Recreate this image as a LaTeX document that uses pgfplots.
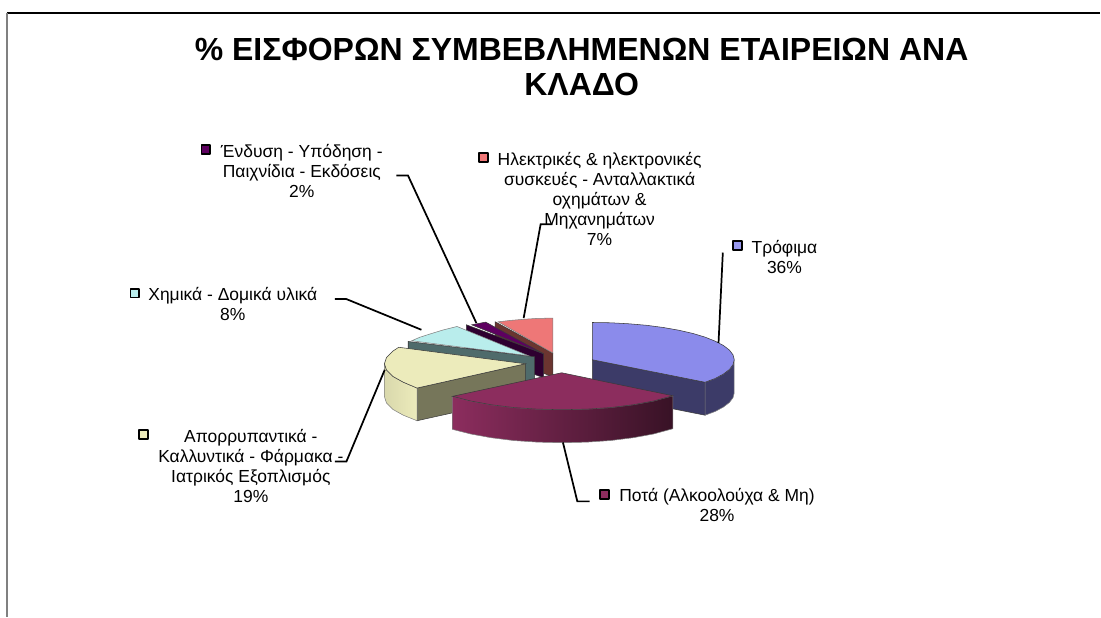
\documentclass[border=0pt]{standalone}
\usepackage{pgfplots}
\pgfplotsset{compat=1.18}
\usepackage{fontspec}
\setmainfont{Liberation Sans}
\definecolor{bluetop}{HTML}{8B8BEB}
\definecolor{blueside}{HTML}{3C3B68}
\definecolor{martop}{HTML}{8C2D5E}
\definecolor{yeltop}{HTML}{ECEBBB}
\definecolor{yelside}{HTML}{76765A}
\definecolor{tealtop}{HTML}{B9EDEC}
\definecolor{tealside}{HTML}{4F6B6B}
\definecolor{purtop}{HTML}{5E0060}
\definecolor{purside}{HTML}{2E0030}
\definecolor{pinktop}{HTML}{EE7777}
\definecolor{pinkside}{HTML}{6B3530}
\definecolor{edge}{HTML}{3A3A3A}
\tikzset{lab/.style={font=\fontsize{13.1}{15}\selectfont, align=center, inner sep=0pt, text=black},
  ttl/.style={font=\fontsize{24}{26.2}\selectfont\bfseries, align=center, inner sep=0pt, text=black},
  key/.style={only marks, mark=square*, mark size=3.3pt, mark options={draw=black, line width=1.4pt, line join=round, fill=#1}},
  lead/.style={black, line width=1.3pt}}
\begin{document}
\begin{tikzpicture}
\begin{axis}[
  scale only axis, width=825.75pt, height=462.75pt,
  xmin=0, xmax=1101, ymin=0, ymax=617, y dir=reverse,
  axis lines=none, clip=false,
]
\path (axis cs:0,0) rectangle (axis cs:1101,617);
% frame
\addplot[draw=black, line width=1.1pt] coordinates {(7,13)(1101,13)};
\addplot[draw=gray, line width=1.2pt] coordinates {(7,13)(7,617)};
% pink slice 7%
\addplot[fill=pinkside, draw=edge, line width=0.4pt] coordinates {(495.5,322)(553.3,353.3)(553.3,377)(495.5,356)} -- cycle;
\addplot[fill=pinktop, draw=gray, line width=0.4pt] coordinates {(553.3,353.3)(553.3,318.3)(538,318.6)(525,319.4)(511,320.6)(498.5,322)} -- cycle;
% purple slice 2%
\addplot[fill=purside, draw=edge, line width=0.4pt] coordinates {(466.7,325)(544,354)(544,378)(466.7,350)} -- cycle;
\addplot[fill=purtop, draw=edge, line width=0.4pt] coordinates {(472,325)(486,322.3)(544,354)} -- cycle;
% teal slice 8%
\addplot[fill=tealside, draw=edge, line width=0.4pt] coordinates {(408.5,341.7)(535,357)(535,390)(408.5,375)} -- cycle;
\addplot[fill=tealtop, draw=gray, line width=0.4pt] coordinates {(412,341)(420,337.5)(430,334.3)(443,330.3)(457.3,326.7)(529,356)} -- cycle;
% yellow slice 19%
\addplot[fill=yelside, draw=edge, line width=0.4pt] coordinates {(525.7,364)(417.3,388.3)(417.3,421)(525.7,397)} -- cycle;
\addplot[left color=yeltop!92!black, right color=yeltop, draw=gray, line width=0.4pt] coordinates {(417.3,388.3)(403.6,382.5)(393.2,376.7)(386.8,370.4)(384.7,364)(384.7,397)(386.8,403.4)(393.2,409.7)(403.6,415.5)(417.3,421)} -- cycle;
\addplot[fill=yeltop, draw=edge, line width=0.4pt] coordinates {(525.7,364)(417.3,388.3)(403.6,382.5)(393.2,376.7)(386.8,370.4)(384.7,364)(386.8,357.6)(393.2,351.3)(399,347.5)} -- cycle;
% blue slice 36%
\addplot[fill=blueside, draw=edge, line width=0.4pt] coordinates {(592.7,360)(705.5,382.5)(705.5,415.5)(592.7,393)} -- cycle;
\addplot[fill=blueside, draw=gray, line width=0.4pt] coordinates {(734.7,360)(733.5,364.9)(729.9,369.7)(723.9,374.3)(715.7,378.7)(705.5,382.5)(705.5,415.5)(715.7,411.7)(723.9,407.3)(729.9,402.7)(733.5,397.9)(734.7,393)} -- cycle;
\addplot[fill=bluetop, draw=edge, line width=0.4pt] coordinates {(592.7,360)(592.7,322.7)(611.2,323)(629.5,324)(647,325.5)(663.7,327.7)(679.1,330.4)(693.1,333.6)(705.4,337.3)(715.7,341.4)(723.9,345.7)(729.9,350.3)(733.5,355.1)(734.7,360)(733.5,364.9)(729.9,369.7)(723.9,374.3)(715.7,378.7)(705.5,382.5)} -- cycle;
% maroon slice 28%
\addplot[left color=martop, middle color=martop!75!black, right color=martop!40!black, draw=gray, line width=0.4pt] coordinates {(452.7,396.6)(471.2,401.3)(491.5,405)(513.9,407.8)(537.8,409.4)(562.5,410)(587.2,409.4)(611.1,407.8)(633.5,405)(653.8,401.3)(673.3,396)(673.3,429)(653.8,434.3)(633.5,438)(611.1,440.8)(587.2,442.4)(562.5,443)(537.8,442.4)(513.9,440.8)(491.5,438)(471.2,434.3)(452.7,429.6)} -- cycle;
\addplot[fill=martop, draw=edge, line width=0.4pt] coordinates {(562,373)(673.3,396)(653.8,401.3)(633.5,405)(611.1,407.8)(587.2,409.4)(562.5,410)(537.8,409.4)(513.9,407.8)(491.5,405)(471.2,401.3)(452.7,396.6)} -- cycle;
% leader lines
\addplot[lead] coordinates {(719,343)(723.3,252.7)};
\addplot[lead] coordinates {(524,318.3)(541,224.3)(552.7,224.3)};
\addplot[lead] coordinates {(476.7,323.3)(408.3,175.7)(396.7,175.7)};
\addplot[lead] coordinates {(421.7,330)(346.7,299.3)(335,299.3)};
\addplot[lead] coordinates {(385,370)(346.7,461.7)(335,461.7)};
\addplot[lead] coordinates {(563.3,442.7)(577.7,501.7)(590,501.7)};
% legend keys
\addplot[key=bluetop!90!white] coordinates {(738.3,245.7)};
\addplot[key=pinktop] coordinates {(484,157.7)};
\addplot[key=purtop] coordinates {(206,149.3)};
\addplot[key=tealtop] coordinates {(135,293.3)};
\addplot[key=yeltop] coordinates {(143.3,435)};
\addplot[key=martop] coordinates {(605,495)};
% labels
\node[lab] at (axis cs:302,171) {Ένδυση - Υπόδηση -\\Παιχνίδια - Εκδόσεις\\2\%};
\node[lab] at (axis cs:600,199.5) {Ηλεκτρικές \& ηλεκτρονικές\\συσκευές - Ανταλλακτικά\\οχημάτων \&\\Μηχανημάτων\\7\%};
\node[lab] at (axis cs:785,257) {Τρόφιμα\\36\%};
\node[lab] at (axis cs:717.5,505.5) {Ποτά (Αλκοολούχα \& Μη)\\28\%};
\node[lab] at (axis cs:233,304) {Χημικά - Δομικά υλικά\\8\%};
\node[lab] at (axis cs:251,466.5) {Απορρυπαντικά -\\Καλλυντικά - Φάρμακα -\\Ιατρικός Εξοπλισμός\\19\%};
\node[ttl] at (axis cs:582,67) {\% ΕΙΣΦΟΡΩΝ ΣΥΜΒΕΒΛΗΜΕΝΩΝ ΕΤΑΙΡΕΙΩΝ ΑΝΑ\\ΚΛΑΔΟ};
\end{axis}
\end{tikzpicture}
\end{document}
